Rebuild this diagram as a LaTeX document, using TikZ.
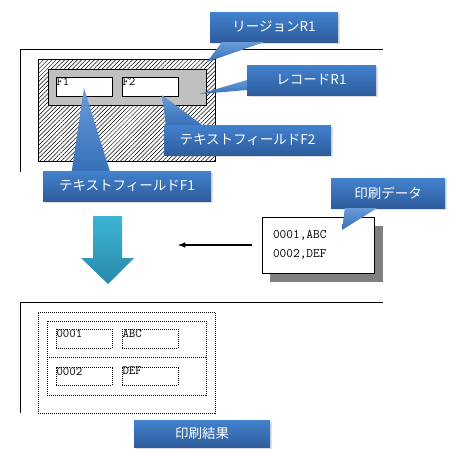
\documentclass[tikz,border=0pt]{standalone}
\usepackage{fontspec}
\newfontfamily\jpfont{Noto Sans CJK JP}
\usetikzlibrary{patterns.meta,shadows,calc}
\definecolor{notetop}{RGB}{66,130,206}
\definecolor{notebot}{RGB}{46,92,156}
\definecolor{notemid}{RGB}{56,112,184}
\definecolor{arrtop}{RGB}{62,180,214}
\definecolor{arrbot}{RGB}{40,137,170}
\definecolor{recgray}{RGB}{192,192,192}
\definecolor{shadgray}{RGB}{128,128,128}
\begin{document}
\begin{tikzpicture}[x=1pt,y=-1pt]
	\tikzset{
		note/.style={rectangle, inner sep=0pt, top color=notetop, bottom color=notebot,
			text=white, font=\jpfont\fontsize{13.5}{13.5}\selectfont, minimum height=30pt,
			drop shadow={shadow xshift=1.5pt, shadow yshift=-2pt, opacity=0.25}},
		tail/.style={top color=notetop!80, bottom color=notemid},
		field/.style={rectangle, draw, fill=white, inner sep=0pt, minimum width=56pt, minimum height=19pt},
		pfield/.style={rectangle, draw, dash pattern=on 1pt off 1pt, inner sep=0pt, minimum width=56pt, minimum height=18.5pt},
		ftext/.style={anchor=north west, inner sep=0.5pt, font=\ttfamily\fontsize{12.5}{12.5}\selectfont},
	}
	\useasboundingbox (0,0) rectangle (457,464);
	% page edges
	\draw (383,49) -| (20,172);
	\draw (383,302) -| (20,413);
	% layout: region, record and fields
	\node[rectangle, draw, pattern={Lines[angle=45,distance=3pt,line width=0.5pt]},
		minimum width=177pt, minimum height=102pt, inner sep=0pt] (region) at (126.5,110) {};
	\node[rectangle, draw, fill=recgray, minimum width=158pt, minimum height=36pt, inner sep=0pt] (record) at (127,87) {};
	\node[field] (fone) at (84,86.5) {};
	\node[field] (ftwo) at (150,86.5) {};
	\node[ftext] at (fone.north west) {F1};
	\node[ftext] at (ftwo.north west) {F2};
	% print data
	\fill[shadgray] (270,226) rectangle (383,282);
	\node[rectangle, draw, fill=white, minimum width=112pt, minimum height=56pt, inner xsep=11pt,
		text width=90pt, align=left, font=\ttfamily\fontsize{13}{19}\selectfont] (data) at (318,245)
		{0001,ABC\\0002,DEF};
	\coordinate (arrend) at (178,245);
	\draw[line width=1.5pt, shorten <=10pt, -latex] (data.west) -- (arrend);
	% big arrow
	\shade[top color=arrtop, bottom color=arrbot]
		(93,216) -- (122,216) -- (122,258) -- (134,258) -- (108,284) -- (81,258) -- (93,258) -- cycle;
	% print result
	\node[rectangle, draw, dash pattern=on 1pt off 1pt, minimum width=177pt, minimum height=101pt, inner sep=0pt] (outpage) at (126.5,362.5) {};
	\node[rectangle, draw, dash pattern=on 1pt off 1pt, minimum width=159pt, minimum height=74pt, inner sep=0pt] (outrec) at (126.5,358) {};
	\draw[dash pattern=on 1pt off 1pt] ($(outrec.west)+(0,-1)$) -- ($(outrec.east)+(0,-1)$);
	\node[pfield] (pa) at (84,338.5) {};
	\node[pfield] (pb) at (150,338.5) {};
	\node[pfield] (pc) at (84,376) {};
	\node[pfield] (pd) at (150,376) {};
	\node[ftext] at (pa.north west) {0001};
	\node[ftext] at (pb.north west) {ABC};
	\node[ftext] at (pc.north west) {0002};
	\node[ftext] at (pd.north west) {DEF};
	% callouts
	\node[note, minimum width=128pt] (regionnote) at (274,27) {リージョンR1};
	\node[note, minimum width=129pt] (recordnote) at (311.5,80) {レコードR1};
	\node[note, minimum width=167pt] (ftwonote) at (247.5,140) {テキストフィールドF2};
	\node[note, minimum width=168pt] (fonenote) at (127,186) {テキストフィールドF1};
	\node[note, minimum width=114pt] (datanote) at (388,193) {印刷データ};
	\node[note, minimum width=136pt, minimum height=27pt] (resultnote) at (202,433.5) {印刷結果};
	\coordinate (regiontip) at (207,62);
	\coordinate (recordtip) at (200,94);
	\coordinate (ftwotip) at (162,95);
	\coordinate (fonetip) at (84,88);
	\coordinate (datatip) at (342,230);
	\shade[tail] ($(regionnote.south west)+(12,0)$) -- (regiontip) -- ($(regionnote.south west)+(54,0)$) -- cycle;
	\shade[tail] ($(recordnote.west)+(0,0)$) -- (recordtip) -- ($(recordnote.west)+(0,10)$) -- cycle;
	\shade[tail] ($(ftwonote.north west)+(2,0)$) -- (ftwotip) -- ($(ftwonote.north west)+(38,0)$) -- cycle;
	\shade[tail] ($(fonenote.north west)+(29,0)$) -- (fonetip) -- ($(fonenote.north west)+(67,0)$) -- cycle;
	\shade[tail] ($(datanote.south west)+(14,0)$) -- (datatip) -- ($(datanote.south west)+(46,0)$) -- cycle;
\end{tikzpicture}
\end{document}
